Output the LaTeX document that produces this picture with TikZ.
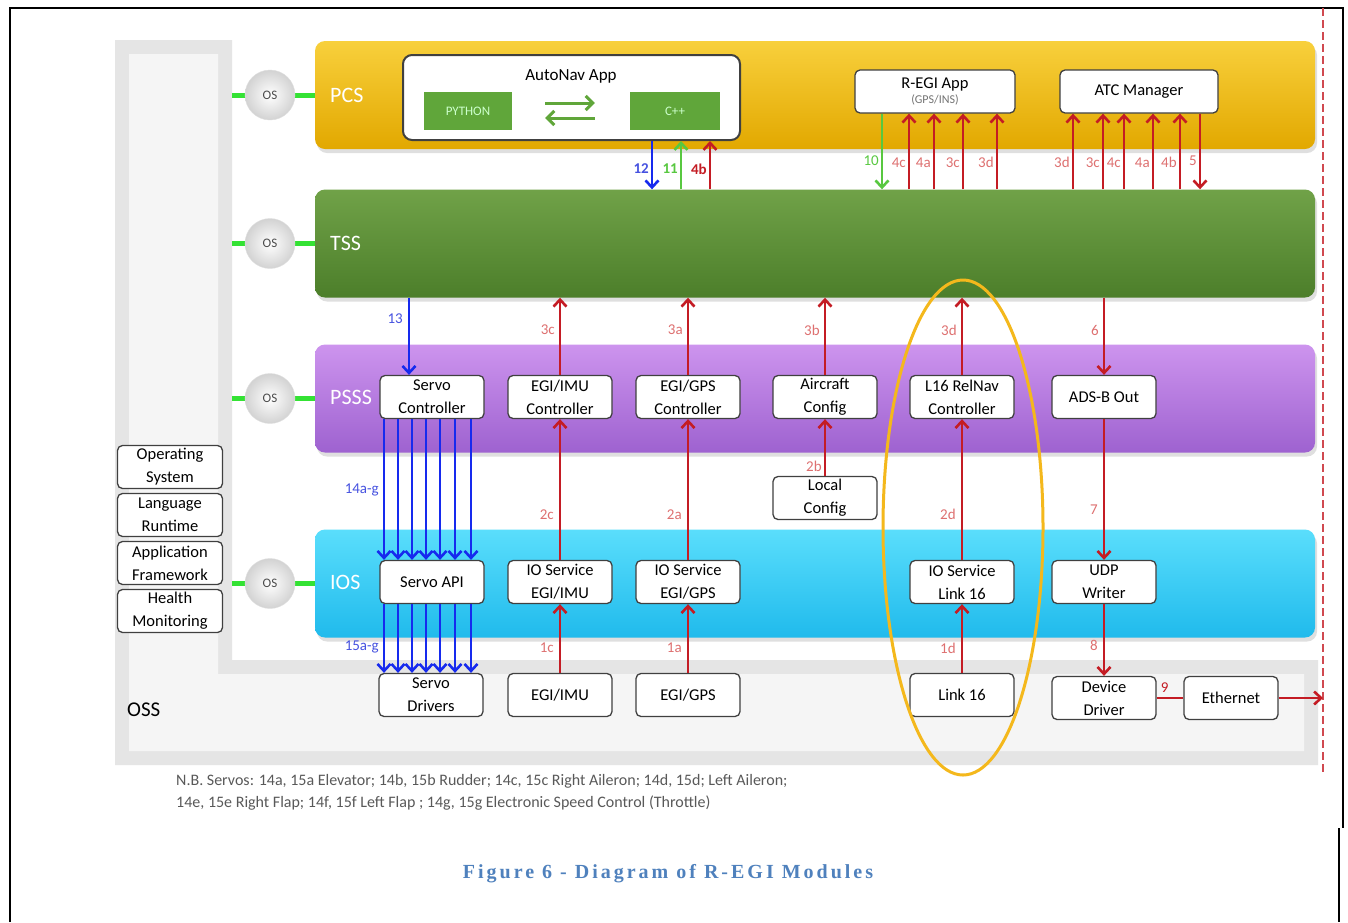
\documentclass[tikz,border=0pt]{standalone}
\usepackage{fontspec}
\setmainfont{Carlito}
\newfontfamily\capfont[LetterSpace=15]{Liberation Serif}
\usetikzlibrary{arrows.meta,shapes.geometric,shadows}

\definecolor{pcsA}{RGB}{248,208,60}
\definecolor{pcsB}{RGB}{226,168,0}
\definecolor{tssA}{RGB}{112,162,72}
\definecolor{tssB}{RGB}{76,126,42}
\definecolor{psssA}{RGB}{205,148,238}
\definecolor{psssB}{RGB}{158,98,208}
\definecolor{iosA}{RGB}{90,222,252}
\definecolor{iosB}{RGB}{32,186,236}
\definecolor{arrred}{RGB}{196,28,36}
\definecolor{arrblu}{RGB}{22,42,238}
\definecolor{arrgrn}{RGB}{88,200,64}
\definecolor{lblred}{RGB}{222,112,112}
\definecolor{lblblu}{RGB}{70,82,224}
\definecolor{osgreen}{RGB}{52,226,52}
\definecolor{langgrn}{RGB}{96,166,58}
\definecolor{hlyel}{RGB}{244,184,28}
\definecolor{capblue}{RGB}{79,129,189}

\tikzset{
  band/.style={rounded corners=10pt, minimum width=1000pt, minimum height=108pt,
    inner sep=0pt, drop shadow={opacity=0.25, shadow xshift=2pt, shadow yshift=-4pt}},
  bandlbl/.style={text=white, font=\fontsize{22}{24}\selectfont, anchor=west, inner sep=0pt},
  modbox/.style={draw=black!75, fill=white, rounded corners=5pt, line width=1.3pt,
    minimum width=104pt, minimum height=43pt, inner sep=0pt, align=center,
    font=\fontsize{16.5}{23}\selectfont},
  langbox/.style={fill=langgrn, text=white!80!green, minimum height=38pt,
    font=\fontsize{13}{13}\selectfont},
  osball/.style={circle, minimum size=50pt, inner sep=0pt, draw=gray!25,
    inner color=white, outer color=gray!35, font=\fontsize{13}{13}\selectfont, text=black!70},
  osbar/.style={line width=5pt, color=osgreen},
  redarr/.style={line width=2.6pt, color=arrred, -{Straight Barb[length=7pt,width=13pt]}},
  redln/.style={line width=2.6pt, color=arrred},
  bluarr/.style={line width=2.6pt, color=arrblu, -{Straight Barb[length=7pt,width=13pt]}},
  grnarr/.style={line width=2.6pt, color=arrgrn, -{Straight Barb[length=7pt,width=13pt]}},
  swaparr/.style={line width=3pt, color=langgrn, -{Straight Barb[length=7pt,width=14pt]}},
  numred/.style={text=lblred, font=\fontsize{15}{15}\selectfont, inner sep=1pt},
  numblu/.style={text=lblblu, font=\fontsize{15}{15}\selectfont, inner sep=1pt},
  numgrn/.style={text=arrgrn, font=\fontsize{15}{15}\selectfont, inner sep=1pt},
}

\begin{document}
\begin{tikzpicture}[x=1pt,y=-1pt]
  \useasboundingbox (0,0) rectangle (1348,922);
  \fill[white] (0,0) rectangle (1348,922);
  % page frame and boundary
  \draw[line width=2pt] (10,922) -- (10,8) -- (1343,8) -- (1343,828);
  \draw[line width=2pt] (1339,828) -- (1339,922);
  \draw[arrred!80, line width=2.5pt, dash pattern=on 8pt off 4pt] (1323,8) -- (1323,773);

  % OS backdrop
  \fill[gray!20] (115,40) -- (232,40) -- (232,660) -- (1318,660) -- (1318,765) -- (115,765) -- cycle;
  \fill[gray!8] (129,54) -- (218,54) -- (218,674) -- (1304,674) -- (1304,751) -- (129,751) -- cycle;

  % layers
  \node[band, top color=pcsA, bottom color=pcsB] (pcs) at (815,95) {};
  \node[band, top color=tssA, bottom color=tssB] (tss) at (815,243.5) {};
  \node[band, top color=psssA, bottom color=psssB] (psss) at (815,398.5) {};
  \node[band, top color=iosA, bottom color=iosB] (ios) at (815,583.5) {};
  \node[bandlbl] (pcsl) at (330,95) {PCS};
  \node[bandlbl] (tssl) at (330,243.5) {TSS};
  \node[bandlbl] (psssl) at (330,397) {PSSS};
  \node[bandlbl] (iosl) at (330,582) {IOS};
  \node[font=\fontsize{21}{21}\selectfont, anchor=west, inner sep=0pt] (ossl) at (127,710) {OSS};

  % OS connections
  \coordinate (colr) at (232,0);
  \coordinate (osx) at (270,0);
  \foreach \nm/\bd in {os1/pcs, os2/tss, os3/psss, os4/ios}{
    \draw[osbar] (colr |- \bd.west) -- (\bd.west);
    \node[osball] (\nm) at (osx |- \bd.west) {OS};
  }

  % OS services
  \node[modbox, minimum width=105pt] (opsys) at (170,467) {Operating\\System};
  \node[modbox, minimum width=105pt] (lrun) at (170,515) {Language\\Runtime};
  \node[modbox, minimum width=105pt] (appfw) at (170,563) {Application\\Framework};
  \node[modbox, minimum width=105pt] (hmon) at (170,611) {Health\\Monitoring};

  % PCS
  \node[draw=black!75, fill=white, rounded corners=9pt, line width=2pt,
    minimum width=337pt, minimum height=85pt] (autonav) at (571.5,97.5) {};
  \node[font=\fontsize{17}{19}\selectfont] (autonavl) at (571,76) {AutoNav App};
  \node[langbox, minimum width=88pt] (python) at (468,111) {PYTHON};
  \node[langbox, minimum width=90pt] (cpp) at (675,111) {C++};
  \draw[swaparr, shorten <=33pt, shorten >=35pt] ([yshift=8pt]python.east) -- ([yshift=8pt]cpp.west);
  \draw[swaparr, shorten <=35pt, shorten >=33pt] ([yshift=-7pt]cpp.west) -- ([yshift=-7pt]python.east);
  \node[modbox, minimum width=160pt] (regi) at (935,91.5)
    {R-EGI App\\[-8pt]{\fontsize{12}{12}\selectfont\color{black!55}(GPS/INS)}};
  \node[modbox, minimum width=158pt] (atc) at (1139,91.5) {ATC Manager};

  % PSSS
  \node[modbox] (svc) at (432,397) {Servo\\Controller};
  \node[modbox] (imuc) at (560,397) {EGI/IMU\\Controller};
  \node[modbox] (gpsc) at (688,397) {EGI/GPS\\Controller};
  \node[modbox] (acfg) at (825,397) {Aircraft\\Config};
  \node[modbox] (l16c) at (962,397) {L16 RelNav\\Controller};
  \node[modbox] (adsb) at (1104,397) {ADS-B Out};
  \node[modbox] (lcfg) at (825,498) {Local\\Config};

  % IOS
  \node[modbox] (sapi) at (432,582) {Servo API};
  \node[modbox] (ioimu) at (560,582) {IO Service\\EGI/IMU};
  \node[modbox] (iogps) at (688,582) {IO Service\\EGI/GPS};
  \node[modbox] (iol16) at (962,582) {IO Service\\Link 16};
  \node[modbox] (udp) at (1104,582) {UDP\\Writer};

  % OSS
  \node[modbox] (sdrv) at (431,695) {Servo\\Drivers};
  \node[modbox] (imu) at (560,695) {EGI/IMU};
  \node[modbox] (gps) at (688,695) {EGI/GPS};
  \node[modbox] (l16) at (962,695) {Link 16};
  \node[modbox] (ddrv) at (1104,698) {Device\\Driver};
  \node[modbox, minimum width=94pt] (eth) at (1231,698) {Ethernet};

  % PCS <-> TSS
  \coordinate (a12) at ([xshift=80.5pt]autonav.south);
  \coordinate (a11) at ([xshift=109.5pt]autonav.south);
  \coordinate (a4b) at ([xshift=138.5pt]autonav.south);
  \draw[bluarr] (a12) -- (a12 |- tss.north) node[numblu, pos=0.58, left=1pt] (l12) {\textbf{12}};
  \draw[grnarr] (a11 |- tss.north) -- (a11) node[numgrn, pos=0.42, left=1pt] (l11) {\textbf{11}};
  \draw[redarr] (a4b |- tss.north) -- (a4b) node[text=arrred, font=\fontsize{15}{15}\selectfont, inner sep=1pt, pos=0.42, left=1pt] (l4b) {\textbf{4b}};

  \coordinate (r10) at ([xshift=-53pt]regi.south);
  \draw[grnarr] (r10) -- (r10 |- tss.north) node[numgrn, pos=0.62, left=1pt] (lr10) {10};
  \foreach \dx/\tx in {-26/4c, -1/4a, 28/3c, 62/3d}{
    \coordinate (r\tx) at ([xshift=\dx pt]regi.south);
    \draw[redarr] (r\tx |- tss.north) -- (r\tx) node[numred, pos=0.35, left=1pt] (lr\tx) {\tx};
  }
  \foreach \dx/\tx in {-66/3d, -36/3c, -15/4c, 14/4a, 41/4b}{
    \coordinate (m\tx) at ([xshift=\dx pt]atc.south);
    \draw[redarr] (m\tx |- tss.north) -- (m\tx) node[numred, pos=0.35, left=1pt] (lm\tx) {\tx};
  }
  \coordinate (m5) at ([xshift=61pt]atc.south);
  \draw[redarr] (m5) -- (m5 |- tss.north) node[numred, pos=0.62, left=1pt] (lm5) {5};

  % TSS <-> PSSS
  \coordinate (c13) at ([xshift=-23pt]svc.north);
  \draw[bluarr] (c13 |- tss.south) -- (c13) node[numblu, pos=0.27, left=4pt] (l13) {13};
  \draw[redarr] (imuc.north) -- (imuc.north |- tss.south) node[numred, pos=0.58, left=3pt] (l3c) {3c};
  \draw[redarr] (gpsc.north) -- (gpsc.north |- tss.south) node[numred, pos=0.58, left=3pt] (l3a) {3a};
  \draw[redarr] (acfg.north) -- (acfg.north |- tss.south) node[numred, pos=0.58, left=3pt] (l3b) {3b};
  \draw[redarr] (l16c.north) -- (l16c.north |- tss.south) node[numred, pos=0.58, left=3pt] (l3d) {3d};
  \draw[redarr] (adsb.north |- tss.south) -- (adsb.north) node[numred, pos=0.42, left=3pt] (l6) {6};

  % PSSS <-> IOS
  \draw[redarr] (lcfg.north) -- (acfg.south) node[numred, pos=0.17, left=1pt] (l2b) {2b};
  \draw[redarr] (ioimu.north) -- (imuc.south) node[numred, pos=0.32, left=4pt] (l2c) {2c};
  \draw[redarr] (iogps.north) -- (gpsc.south) node[numred, pos=0.32, left=4pt] (l2a) {2a};
  \draw[redarr] (iol16.north) -- (l16c.south) node[numred, pos=0.32, left=4pt] (l2d) {2d};
  \draw[redarr] (adsb.south) -- (udp.north) node[numred, pos=0.64, left=4pt] (l7) {7};

  % servo channels
  \foreach \dx in {-48,-34,-20,-6,8,23,39}{
    \coordinate (s) at ([xshift=\dx pt]svc.south);
    \draw[bluarr] (s) -- (s |- sapi.north);
    \draw[bluarr] (s |- sapi.south) -- (s |- sdrv.north);
  }
  \coordinate (s1) at ([xshift=-48pt]svc.south);
  \path (s1) -- (s1 |- sapi.north) node[numblu, pos=0.5, left=4pt] (l14) {14a-g};
  \path (s1 |- sapi.south) -- (s1 |- sdrv.north) node[numblu, pos=0.62, left=4pt] (l15) {15a-g};

  % IOS <-> OSS
  \draw[redarr] (imu.north) -- (ioimu.south) node[numred, pos=0.36, left=4pt] (l1c) {1c};
  \draw[redarr] (gps.north) -- (iogps.south) node[numred, pos=0.36, left=4pt] (l1a) {1a};
  \draw[redarr] (l16.north) -- (iol16.south) node[numred, pos=0.36, left=4pt] (l1d) {1d};
  \draw[redarr] (udp.south) -- (ddrv.north) node[numred, pos=0.58, left=4pt] (l8) {8};
  \draw[redln] (ddrv.east) -- (eth.west) node[text=arrred, font=\fontsize{15}{15}\selectfont, inner sep=1pt, pos=0.3, above=3pt] (l9) {9};
  \coordinate (edge) at (1323,698);
  \draw[redarr] (eth.east) -- (edge);

  % highlight
  \node[draw=hlyel, line width=3pt, ellipse, minimum width=160pt, minimum height=495pt, inner sep=0pt] (focus) at (963,527.5) {};

  % note and caption
  \node[anchor=north west, align=left, text=black!65, inner sep=0pt, font=\fontsize{16}{22}\selectfont] (note) at (176,774)
    {N.B. Servos: 14a, 15a Elevator; 14b, 15b Rudder; 14c, 15c Right Aileron; 14d, 15d; Left Aileron;\\
     14e, 15e Right Flap; 14f, 15f Left Flap ; 14g, 15g Electronic Speed Control (Throttle)};
  \node[text=capblue, font=\capfont\bfseries\fontsize{20}{20}\selectfont] (cap) at (668,874) {Figure 6 - Diagram of R-EGI Modules};
\end{tikzpicture}
\end{document}
